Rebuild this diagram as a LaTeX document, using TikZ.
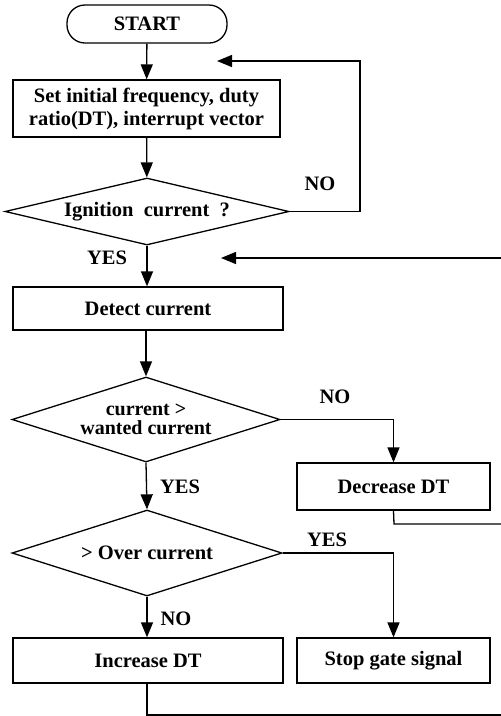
\documentclass[tikz,border=0pt]{standalone}
\usepackage{fontspec}
\setmainfont{Liberation Serif}
\usetikzlibrary{shapes.geometric,arrows.meta}
\begin{document}
\begin{tikzpicture}[x=1pt,y=-1pt,
  every node/.style={font=\fontsize{20.5}{23}\selectfont\bfseries},
  box/.style={draw, line width=1.3pt, inner sep=0pt},
  dia/.style={draw, diamond, line width=1.3pt, inner sep=0pt},
  lab/.style={inner sep=0pt},
  arr/.style={line width=1.3pt, -{Triangle[length=15pt,width=12pt]}},
  ln/.style={line width=1.3pt}]
\useasboundingbox (0,0) rectangle (501,716);
% nodes
\node[box, rounded corners=18pt, minimum width=160pt, minimum height=38pt] (start) at (147,24) {START};
\node[box, minimum width=267pt, minimum height=57pt, align=center] (b1) at (146.5,108.5) {Set initial frequency, duty\\ratio(DT), interrupt vector};
\node[dia, aspect=4.24, minimum width=284pt, minimum height=67pt] (d1) at (147,211.5) {Ignition\ \ current\ \ ?};
\node[box, minimum width=270pt, minimum height=43pt] (b2) at (148,308.5) {Detect current};
\node[dia, aspect=3.15, minimum width=268pt, minimum height=85pt, align=center, font=\fontsize{20}{19}\selectfont\bfseries] (d2) at (146,419.5) {current >\\wanted current};
\node[box, minimum width=193pt, minimum height=47pt] (dec) at (393.5,486.5) {Decrease DT};
\node[dia, aspect=3.14, minimum width=270pt, minimum height=86pt] (d3) at (147,553) {> Over current};
\node[box, minimum width=270pt, minimum height=45pt] (inc) at (148,660.5) {Increase DT};
\node[box, minimum width=193pt, minimum height=45pt] (stop) at (393.5,660.5) {Stop gate signal};
% labels
\node[lab] (l1) at (320,184) {NO};
\node[lab] (l2) at (107,258) {YES};
\node[lab] (l3) at (335,397) {NO};
\node[lab] (l4) at (180,487) {YES};
\node[lab] (l5) at (327,540) {YES};
\node[lab] (l6) at (176,619) {NO};
% coordinates
\coordinate (c1) at (360,61);
\coordinate (t1) at (217,61);
\coordinate (e1) at (501,258);
\coordinate (t2) at (221,258);
\coordinate (c2) at (394,524);
\coordinate (e2) at (501,524);
\coordinate (e3) at (501,715);
% connectors
\draw[arr] (start) -- (b1);
\draw[arr] (b1) -- (d1);
\draw[arr] (d1.east) -| (c1) -- (t1);
\draw[arr] (d1.south) -- (d1.south |- b2.north);
\draw[arr] (e1) -- (t2);
\draw[arr] (b2.south -| d2.north) -- (d2.north);
\draw[arr] (d2.east) -| (dec.north);
\draw[ln] (dec.south) -- (c2) -- (e2);
\draw[arr] (d2.south) -- (d3.north);
\draw[arr] (d3.east) -| (stop.north);
\draw[arr] (d3.south) -- (d3.south |- inc.north);
\draw[ln] (d3.south |- inc.south) |- (e3);
\end{tikzpicture}
\end{document}
